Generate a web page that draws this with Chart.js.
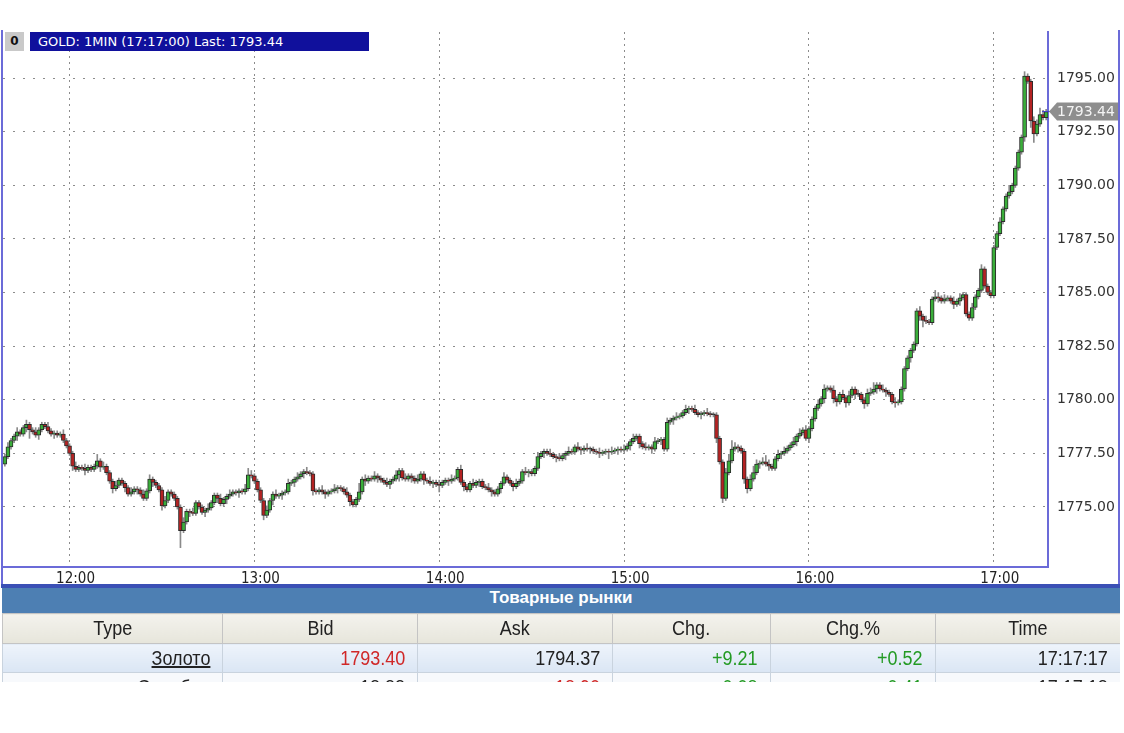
<!DOCTYPE html>
<html>
<head>
<meta charset="utf-8">
<script src="https://cdn.jsdelivr.net/npm/chart.js@4.4.0/dist/chart.umd.min.js"></script>
<style>
  body { margin: 0; background: #fff; width: 1124px; height: 733px; position: relative; overflow: hidden; font-family: 'DejaVu Sans', sans-serif; }
  #c { position: absolute; left: 0; top: 0; }
  .line { position: absolute; background: #6b6bd8; }
  #zero { position: absolute; left: 5px; top: 32px; width: 19px; height: 19px; background: #c9c9c9; font: bold 12px 'DejaVu Sans'; line-height: 19px; text-align: center; color: #111; }
  #title { position: absolute; left: 30px; top: 32px; width: 331px; height: 19px; padding-left: 8px; background: #10109c; color: #fff; font: 13px 'DejaVu Sans'; line-height: 19px; white-space: nowrap; }
  #tbl { position: absolute; left: 2px; top: 588px; width: 1118px; height: 94px; overflow: hidden; }
  #cap { height: 25px; line-height: 25px; background: #4d7fb3; color: #fff; font: bold 17px 'Liberation Sans', Arial, sans-serif; text-align: center; }
  table { border-collapse: collapse; table-layout: fixed; width: 1118px; font: 20px 'Liberation Sans', Arial, sans-serif; color: #222; }
  th { height: 29px; background: linear-gradient(#f4f3ed, #e6e5db); font-weight: normal; border: 1px solid #c4c4c4; padding: 0; }
  th span { display: inline-block; transform: scaleX(0.9); }
  td { height: 28px; text-align: right; padding: 0 12px 0 0; border: 1px solid #c9d3de; white-space: nowrap; }
  td span { display: inline-block; transform: scaleX(0.9); transform-origin: right center; }
  tr.r1 td { background: linear-gradient(#eef4fb, #dae6f4); }
  tr.r2 td { background: #f7f9fc; }
  .u { text-decoration: underline; }
  .red { color: #d02828; }
  .grn { color: #239a23; }
</style>
</head>
<body>
<canvas id="c" width="1124" height="588"></canvas>
<div class="line" style="left:1px;top:30px;width:2px;height:558px"></div>
<div class="line" style="left:1118px;top:30px;width:2px;height:558px"></div>
<div class="line" style="left:1px;top:584px;width:1119px;height:4px;background:#3b50b5"></div>
<div id="zero">0</div>
<div id="title"></div>
<div id="tbl"><div id="cap"></div><table id="t"></table></div>

<script>
// time axis: one candle per minute, index 0 = 11:39
const times = ["12:00", "13:00", "14:00", "15:00", "16:00", "17:00"];
const timeIdx = [21, 81, 141, 201, 261, 321];
const priceTicks = [1775, 1777.5, 1780, 1782.5, 1785, 1787.5, 1790, 1792.5, 1795];

const firstOpen = 1777.0;
const closes = [
  1777.35, 1777.8, 1778.1, 1778.3, 1778.5, 1778.4, 1778.7, 1778.85, 1778.6, 1778.5,
  1778.35, 1778.6, 1778.85, 1778.75, 1778.55, 1778.4, 1778.45, 1778.35, 1778.4, 1778.1,
  1777.85, 1777.5, 1776.9, 1776.75, 1776.85, 1776.8, 1776.7, 1776.85, 1776.75, 1776.9,
  1777.15, 1776.85, 1776.9, 1776.6, 1776.2, 1775.85, 1776.0, 1776.25, 1776.1, 1775.9,
  1775.6, 1775.7, 1775.85, 1775.8, 1775.6, 1775.4, 1775.75, 1776.3, 1776.15, 1776.0,
  1775.8, 1775.05, 1775.3, 1775.7, 1775.6, 1775.4, 1775.0, 1773.9, 1774.3, 1774.8,
  1774.75, 1774.7, 1775.2, 1775.0, 1774.75, 1774.85, 1774.95, 1775.2, 1775.55, 1775.4,
  1775.15, 1775.35, 1775.5, 1775.6, 1775.7, 1775.65, 1775.75, 1775.7, 1775.85, 1776.5,
  1776.45, 1776.2, 1775.8, 1775.3, 1774.6, 1774.85, 1775.3, 1775.6, 1775.5, 1775.55,
  1775.65, 1775.7, 1776.1, 1776.15, 1776.3, 1776.4, 1776.55, 1776.65, 1776.6, 1776.55,
  1775.75, 1775.7, 1775.8, 1775.7, 1775.6, 1775.7, 1775.75, 1775.85, 1775.9, 1775.85,
  1775.7, 1775.55, 1775.25, 1775.1, 1775.35, 1775.7, 1776.3, 1776.2, 1776.35, 1776.3,
  1776.45, 1776.35, 1776.25, 1776.15, 1776.05, 1776.2, 1776.3, 1776.5, 1776.7, 1776.35,
  1776.3, 1776.45, 1776.35, 1776.2, 1776.3, 1776.55, 1776.25, 1776.2, 1776.1, 1776.15,
  1776.05, 1776.0, 1776.15, 1776.25, 1776.2, 1776.3, 1776.35, 1776.75, 1776.15, 1775.95,
  1775.8, 1776.1, 1776.0, 1776.15, 1776.2, 1775.95, 1775.9, 1775.8, 1775.7, 1775.6,
  1775.85, 1776.1, 1776.4, 1776.25, 1776.1, 1775.95, 1776.1, 1776.2, 1776.65, 1776.6,
  1776.65, 1776.55, 1776.8, 1777.35, 1777.5, 1777.6, 1777.5, 1777.45, 1777.35, 1777.3,
  1777.25, 1777.4, 1777.5, 1777.6, 1777.55, 1777.8, 1777.7, 1777.65, 1777.75, 1777.7,
  1777.7, 1777.6, 1777.55, 1777.5, 1777.55, 1777.6, 1777.55, 1777.6, 1777.65, 1777.7,
  1777.65, 1777.7, 1777.85, 1778.05, 1778.2, 1778.3, 1777.95, 1777.8, 1777.75, 1777.8,
  1777.7, 1778.05, 1778.1, 1778.15, 1777.7, 1778.95, 1779.05, 1779.15, 1779.2, 1779.25,
  1779.4, 1779.55, 1779.6, 1779.55, 1779.4, 1779.3, 1779.35, 1779.4, 1779.35, 1779.3,
  1779.3, 1778.2, 1777.1, 1775.4, 1776.6, 1777.15, 1777.7, 1777.8, 1777.75, 1777.6,
  1776.3, 1775.85, 1776.3, 1776.6, 1777.0, 1777.05, 1777.1, 1777.0, 1776.9, 1776.8,
  1777.25, 1777.45, 1777.5, 1777.6, 1777.75, 1777.9, 1778.05, 1778.3, 1778.45, 1778.6,
  1778.2, 1778.65, 1779.1, 1779.6, 1779.8, 1780.05, 1780.5, 1780.55, 1780.45, 1780.05,
  1779.9, 1780.25, 1780.1, 1779.85, 1780.2, 1780.5, 1780.25, 1780.25, 1780.0, 1779.8,
  1780.3, 1780.35, 1780.5, 1780.7, 1780.5, 1780.45, 1780.35, 1780.25, 1779.9, 1779.85,
  1779.9, 1780.5, 1781.45, 1781.95, 1782.3, 1782.6, 1784.15, 1783.9, 1783.7, 1783.65,
  1783.6, 1784.7, 1784.8, 1784.75, 1784.6, 1784.7, 1784.75, 1784.6, 1784.45, 1784.6,
  1784.75, 1784.9, 1784.0, 1783.8, 1784.3, 1784.8, 1785.1, 1786.1, 1785.3, 1785.0,
  1784.85, 1787.1, 1787.75, 1788.3, 1788.9, 1789.5, 1789.7, 1790.0, 1790.8, 1791.55,
  1792.25, 1795.1, 1794.85, 1793.0, 1792.4, 1792.85, 1793.3, 1793.15, 1793.44
];
// wick lengths above / below the body, in tenths of a dollar
const wickUp = [
  1,2,1,1,2,1,1,2,1,1,2,1,1,1,2,1,1,1,1,2,
  1,1,1,2,1,1,2,1,1,1,3,1,2,1,1,1,2,1,1,1,
  1,2,1,1,1,2,1,2,1,1,1,1,2,1,1,1,1,1,2,1,
  1,2,1,1,1,1,2,1,1,1,2,1,1,2,1,1,1,1,2,3,
  2,1,1,1,1,2,1,1,2,1,1,1,2,1,1,2,1,1,2,1,
  1,1,1,2,1,1,1,2,1,1,1,2,1,1,1,4,1,2,1,1,
  2,1,1,1,2,1,1,2,1,1,2,1,1,1,2,1,1,1,2,1,
  1,2,1,1,1,2,1,1,2,1,1,1,2,1,1,1,1,2,1,1,
  1,1,2,1,1,1,2,1,1,2,1,1,1,2,1,1,1,2,1,1,
  2,1,1,2,1,1,2,1,1,2,1,1,1,2,1,1,1,2,1,1,
  1,2,1,1,2,1,1,1,2,1,1,2,1,1,1,2,1,1,2,1,
  1,2,1,1,2,1,1,1,2,1,1,1,1,1,2,3,4,2,1,1,
  1,1,2,3,2,1,2,3,2,1,1,2,1,2,1,1,2,1,2,1,
  2,1,1,1,2,1,2,1,1,2,1,1,2,1,2,1,1,2,1,1,
  2,2,3,1,1,2,1,1,1,2,1,1,1,1,1,1,1,2,1,2,
  1,1,3,2,1,2,1,1,2,1,2,1,1,1,2,1,1,2,1,1,
  1,1,1,2,1,1,3,1,1,1,1,2,1,1,2,2,3,2,1
];
const wickDn = [
  1,1,1,1,2,1,1,2,4,1,1,2,1,1,1,1,2,1,1,1,
  1,1,2,1,1,1,2,1,1,1,1,2,1,1,1,2,1,1,1,2,
  1,1,1,2,1,1,1,1,2,1,1,2,1,1,1,1,1,8,1,1,
  2,1,1,1,1,2,1,1,1,2,1,1,2,1,1,1,2,1,1,1,
  1,1,1,1,2,1,1,2,1,1,2,1,1,1,2,1,1,2,1,1,
  2,1,1,1,2,1,1,1,2,1,1,1,2,1,1,1,1,2,1,1,
  1,2,1,1,1,2,1,1,3,1,1,1,2,1,1,1,2,1,1,2,
  1,3,1,1,2,1,1,1,1,2,1,1,1,1,2,1,1,1,2,1,
  1,2,1,1,1,2,1,1,1,1,2,1,1,1,1,2,1,1,1,2,
  1,1,2,1,1,1,1,2,1,1,2,1,1,2,1,1,3,1,1,2,
  1,1,1,2,1,1,2,1,1,1,2,1,1,2,1,1,1,2,1,1,
  1,1,2,1,1,1,2,1,1,1,1,2,1,2,1,1,1,1,2,1,
  2,2,1,1,1,2,1,1,2,1,1,1,2,1,1,1,1,2,1,1,
  1,2,1,1,1,1,2,1,1,2,2,1,1,2,1,1,2,1,1,2,
  1,1,1,2,1,1,2,1,1,2,1,1,1,1,2,1,1,2,3,1,
  1,1,1,2,1,1,1,1,2,1,2,1,1,1,1,1,1,1,1,1,
  1,1,1,1,1,1,1,1,1,1,1,2,1,3,4,1,1,1,1
];
const lastPrice = 1793.44;
const headerText = "GOLD: 1MIN (17:17:00) Last: 1793.44";

// quote table
const tableTitle = "Товарные рынки";
const tableCols = ["Type", "Bid", "Ask", "Chg.", "Chg.%", "Time"];
const colWidths = [220, 195, 195, 158, 165, 185];
const goldRow = ["Золото", "1793.40", "1794.37", "+9.21", "+0.52", "17:17:17"];
const silverRow = ["Серебро", "18.88", "18.90", "+0.08", "+0.41", "17:17:18"];

document.getElementById('title').textContent = headerText;
document.getElementById('cap').textContent = tableTitle;
let html = '<colgroup>' + colWidths.map(w => '<col style="width:' + w + 'px">').join('') + '</colgroup>';
html += '<tr>' + tableCols.map(c => '<th><span>' + c + '</span></th>').join('') + '</tr>';
const cls = ['u', '', '', 'grn', 'grn', ''];
html += '<tr class="r1">' + goldRow.map((v, i) => '<td><span class="' + (i == 1 ? 'red' : cls[i]) + '">' + v + '</span></td>').join('') + '</tr>';
html += '<tr class="r2">' + silverRow.map((v, i) => '<td><span class="' + (i == 2 ? 'red' : cls[i]) + '">' + v + '</span></td>').join('') + '</tr>';
document.getElementById('t').innerHTML = html;

// candles
const body = [], wick = [], colors = [];
closes.forEach((c, i) => {
  const o = i === 0 ? firstOpen : closes[i - 1];
  const hi = Math.max(o, c) + wickUp[i] / 10;
  const lo = Math.min(o, c) - wickDn[i] / 10;
  body.push({ x: i, y: [o, c] });
  wick.push({ x: i, y: [lo, hi] });
  colors.push(c > o ? '#3aae3a' : (c < o ? '#b42222' : '#333'));
});

const lastTag = {
  id: 'lastTag',
  afterDraw(chart) {
    const { ctx, chartArea, scales: { y } } = chart;
    const py = y.getPixelForValue(lastPrice);
    const x0 = chartArea.right + 1;
    ctx.save();
    ctx.strokeStyle = '#4444cc';
    ctx.lineWidth = 1;
    ctx.beginPath();
    ctx.moveTo(chartArea.right - 6, py);
    ctx.lineTo(x0 + 2, py);
    ctx.stroke();
    ctx.fillStyle = '#8e8e8e';
    ctx.beginPath();
    ctx.moveTo(x0, py);
    ctx.lineTo(x0 + 8, py - 9);
    ctx.lineTo(chart.width - 6, py - 9);
    ctx.lineTo(chart.width - 6, py + 9);
    ctx.lineTo(x0 + 8, py + 9);
    ctx.closePath();
    ctx.fill();
    ctx.fillStyle = '#f4f4f4';
    ctx.font = '14px "DejaVu Sans"';
    ctx.textBaseline = 'middle';
    ctx.fillText(lastPrice.toFixed(2), chartArea.right + 9, py + 1);
    ctx.restore();
  }
};

new Chart(document.getElementById('c'), {
  type: 'bar',
  data: {
    datasets: [
      { data: body, backgroundColor: colors, borderColor: '#2b2b2b', borderWidth: 1, borderSkipped: false,
        barThickness: 4, minBarLength: 1, grouped: false },
      { data: wick, backgroundColor: '#8a8a8a', borderWidth: 0, barThickness: 1, grouped: false }
    ]
  },
  options: {
    responsive: false,
    animation: false,
    devicePixelRatio: 1,
    layout: { padding: { top: 32, left: 3, right: 0, bottom: 0 } },
    plugins: { legend: { display: false }, tooltip: { enabled: false } },
    scales: {
      x: {
        type: 'linear', offset: false, min: -0.6, max: 338.6,
        afterBuildTicks: s => { s.ticks = timeIdx.map(v => ({ value: v })); },
        afterFit: s => { s.height = 21; },
        grid: { color: '#8c8c8c', lineWidth: 1, drawTicks: false, offset: false },
        border: { color: '#6b6bd8', width: 2, dash: [2, 4] },
        ticks: {
          callback: v => times[timeIdx.indexOf(v)],
          autoSkip: false, maxRotation: 0, labelOffset: 6, padding: 3, color: '#222',
          font: { family: "'DejaVu Sans Condensed', 'Liberation Sans Narrow', sans-serif", size: 15 }
        }
      },
      y: {
        position: 'right', min: 1772.2, max: 1797.15,
        afterBuildTicks: s => { s.ticks = priceTicks.map(v => ({ value: v })); },
        afterFit: s => { s.width = 76; },
        grid: { color: '#8c8c8c', lineWidth: 1, drawTicks: false },
        border: { color: '#6b6bd8', width: 2, dash: [2, 8] },
        ticks: {
          callback: v => v.toFixed(2),
          padding: 9, color: '#333',
          font: { family: "'DejaVu Sans', sans-serif", size: 14 }
        }
      }
    }
  },
  plugins: [lastTag]
});
</script>
</body>
</html>
